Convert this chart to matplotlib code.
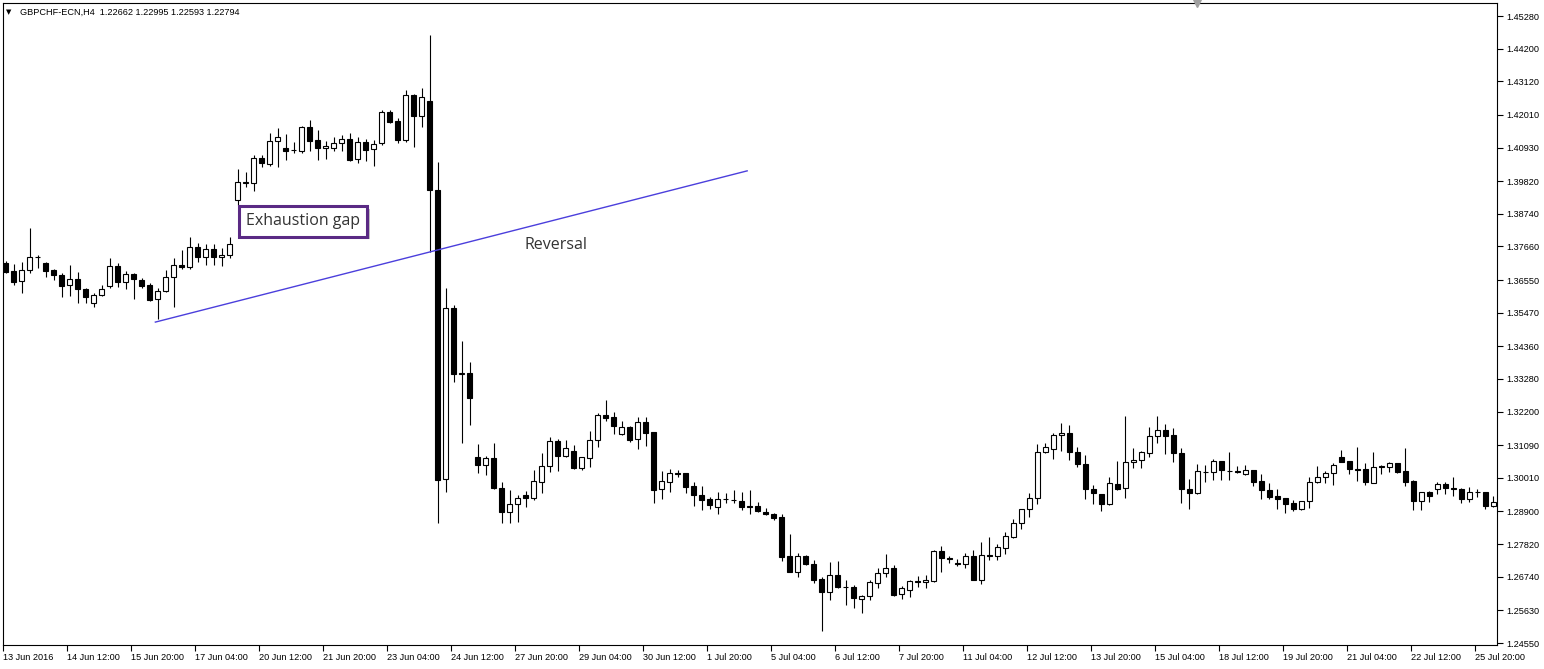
import matplotlib
matplotlib.use('Agg')
import matplotlib.pyplot as plt
import matplotlib.patheffects as pe
from matplotlib.transforms import ScaledTranslation

# GBPCHF H4 candles, 13 Jun 2016 -> 25 Jul 2016
opens = [1.3712, 1.3685, 1.3651, 1.3688, 1.3730, 1.3711, 1.3687, 1.3673, 1.3638, 1.3658,
         1.3627, 1.3578, 1.3605, 1.3634, 1.3700, 1.3648, 1.3675, 1.3655, 1.3639, 1.3591,
         1.3618, 1.3664, 1.3705, 1.3699, 1.3765, 1.3732, 1.3757, 1.3731, 1.3738, 1.3919,
         1.3976, 1.3975, 1.4058, 1.4040, 1.4114, 1.4091, 1.4085, 1.4083, 1.4161, 1.4117,
         1.4091, 1.4091, 1.4107, 1.4121, 1.4056, 1.4111, 1.4087, 1.4107, 1.4210, 1.4180,
         1.4118, 1.4266, 1.4199, 1.4247, 1.3953, 1.2996, 1.3562, 1.3344, 1.3349, 1.3069,
         1.3045, 1.3066, 1.2967, 1.2889, 1.2914, 1.2943, 1.2935, 1.2986, 1.3039, 1.3123,
         1.3074, 1.3089, 1.3035, 1.3068, 1.3125, 1.3209, 1.3201, 1.3145, 1.3169, 1.3128,
         1.3185, 1.3152, 1.2963, 1.2986, 1.3016, 1.3016, 1.2973, 1.2943, 1.2931, 1.2906,
         1.2931, 1.2929, 1.2925, 1.2907, 1.2908, 1.2888, 1.2881, 1.2871, 1.2743, 1.2691,
         1.2743, 1.2716, 1.2667, 1.2625, 1.2680, 1.2641, 1.2640, 1.2602, 1.2609, 1.2655,
         1.2685, 1.2702, 1.2616, 1.2629, 1.2659, 1.2656, 1.2660, 1.2759, 1.2735, 1.2718,
         1.2716, 1.2743, 1.2664, 1.2745, 1.2742, 1.2768, 1.2807, 1.2851, 1.2897, 1.2933,
         1.3086, 1.3095, 1.3142, 1.3148, 1.3086, 1.3047, 1.2963, 1.2947, 1.2914, 1.2980,
         1.2967, 1.3052, 1.3059, 1.3082, 1.3138, 1.3158, 1.3142, 1.3082, 1.2963, 1.2950,
         1.3022, 1.3020, 1.3056, 1.3025, 1.3023, 1.3014, 1.3026, 1.2990, 1.2960, 1.2940,
         1.2933, 1.2917, 1.2897, 1.2924, 1.2986, 1.3003, 1.3016, 1.3069, 1.3057, 1.3029,
         1.3029, 1.2985, 1.3041, 1.3036, 1.3049, 1.3023, 1.2991, 1.2926, 1.2954, 1.2963,
         1.2981, 1.2966, 1.2964, 1.2930, 1.2955, 1.2953, 1.2908]
highs = [1.3718, 1.3709, 1.3715, 1.3827, 1.3739, 1.3715, 1.3691, 1.3677, 1.3704, 1.3682,
         1.3628, 1.3613, 1.3640, 1.3728, 1.3710, 1.3686, 1.3677, 1.3662, 1.3646, 1.3629,
         1.3688, 1.3728, 1.3754, 1.3798, 1.3777, 1.3774, 1.3774, 1.3760, 1.3796, 1.4021,
         1.4011, 1.4068, 1.4068, 1.4140, 1.4157, 1.4138, 1.4110, 1.4165, 1.4184, 1.4151,
         1.4116, 1.4127, 1.4136, 1.4140, 1.4129, 1.4122, 1.4118, 1.4217, 1.4217, 1.4190,
         1.4283, 1.4270, 1.4290, 1.4465, 1.4045, 1.3630, 1.3573, 1.3454, 1.3384, 1.3113,
         1.3073, 1.3116, 1.2986, 1.2961, 1.2944, 1.2958, 1.3027, 1.3083, 1.3136, 1.3129,
         1.3125, 1.3110, 1.3071, 1.3156, 1.3215, 1.3258, 1.3219, 1.3189, 1.3173, 1.3201,
         1.3201, 1.3153, 1.3024, 1.3029, 1.3027, 1.3017, 1.2986, 1.2974, 1.2937, 1.2954,
         1.2950, 1.2961, 1.2955, 1.2961, 1.2920, 1.2900, 1.2884, 1.2881, 1.2814, 1.2752,
         1.2746, 1.2729, 1.2674, 1.2722, 1.2725, 1.2663, 1.2647, 1.2614, 1.2663, 1.2702,
         1.2749, 1.2713, 1.2644, 1.2663, 1.2677, 1.2680, 1.2763, 1.2777, 1.2743, 1.2732,
         1.2754, 1.2763, 1.2788, 1.2806, 1.2782, 1.2822, 1.2865, 1.2899, 1.2950, 1.3113,
         1.3115, 1.3150, 1.3183, 1.3176, 1.3103, 1.3077, 1.2977, 1.2948, 1.3003, 1.3057,
         1.3206, 1.3100, 1.3089, 1.3168, 1.3206, 1.3179, 1.3166, 1.3099, 1.2997, 1.3046,
         1.3043, 1.3063, 1.3056, 1.3086, 1.3039, 1.3043, 1.3026, 1.3014, 1.2983, 1.2964,
         1.2934, 1.2928, 1.2925, 1.3005, 1.3040, 1.3024, 1.3049, 1.3093, 1.3057, 1.3102,
         1.3050, 1.3087, 1.3042, 1.3054, 1.3050, 1.3100, 1.2994, 1.2955, 1.2958, 1.2988,
         1.2986, 1.3004, 1.2966, 1.2972, 1.2963, 1.2954, 1.2941]
lows = [1.3678, 1.3639, 1.3613, 1.3677, 1.3694, 1.3666, 1.3655, 1.3598, 1.3603, 1.3578,
        1.3580, 1.3567, 1.3602, 1.3630, 1.3633, 1.3626, 1.3593, 1.3630, 1.3586, 1.3525,
        1.3616, 1.3565, 1.3693, 1.3690, 1.3716, 1.3706, 1.3705, 1.3702, 1.3727, 1.3903,
        1.3962, 1.3950, 1.4028, 1.4032, 1.4030, 1.4052, 1.4074, 1.4076, 1.4083, 1.4052,
        1.4054, 1.4083, 1.4083, 1.4050, 1.4043, 1.4049, 1.4032, 1.4100, 1.4175, 1.4109,
        1.4111, 1.4095, 1.4161, 1.3749, 1.2851, 1.2955, 1.3319, 1.3117, 1.3176, 1.3018,
        1.3009, 1.2965, 1.2851, 1.2853, 1.2856, 1.2906, 1.2928, 1.2952, 1.3020, 1.3025,
        1.3071, 1.3031, 1.3028, 1.3036, 1.3104, 1.3190, 1.3147, 1.3143, 1.3121, 1.3097,
        1.3106, 1.2919, 1.2932, 1.2953, 1.3004, 1.2951, 1.2909, 1.2895, 1.2898, 1.2882,
        1.2919, 1.2917, 1.2895, 1.2882, 1.2887, 1.2878, 1.2862, 1.2727, 1.2690, 1.2674,
        1.2713, 1.2652, 1.2496, 1.2597, 1.2636, 1.2581, 1.2570, 1.2555, 1.2597, 1.2636,
        1.2672, 1.2610, 1.2600, 1.2608, 1.2641, 1.2638, 1.2657, 1.2691, 1.2719, 1.2711,
        1.2702, 1.2663, 1.2649, 1.2728, 1.2730, 1.2748, 1.2803, 1.2833, 1.2873, 1.2916,
        1.3082, 1.3064, 1.3090, 1.3061, 1.3038, 1.2932, 1.2916, 1.2892, 1.2910, 1.2961,
        1.2935, 1.3035, 1.3035, 1.3071, 1.3117, 1.3081, 1.3052, 1.2917, 1.2897, 1.2949,
        1.2988, 1.2994, 1.2994, 1.2995, 1.3016, 1.3012, 1.2975, 1.2932, 1.2932, 1.2897,
        1.2884, 1.2892, 1.2896, 1.2902, 1.2985, 1.2985, 1.2976, 1.3052, 1.3013, 1.2992,
        1.2976, 1.2983, 1.3013, 1.3019, 1.3018, 1.2973, 1.2895, 1.2895, 1.2922, 1.2948,
        1.2948, 1.2940, 1.2919, 1.2922, 1.2937, 1.2898, 1.2904]
closes = [1.3683, 1.3650, 1.3688, 1.3730, 1.3731, 1.3686, 1.3671, 1.3636, 1.3658, 1.3626,
          1.3598, 1.3605, 1.3624, 1.3700, 1.3648, 1.3675, 1.3658, 1.3636, 1.3589, 1.3618,
          1.3664, 1.3704, 1.3699, 1.3765, 1.3732, 1.3757, 1.3730, 1.3738, 1.3773, 1.3978,
          1.3978, 1.4058, 1.4041, 1.4114, 1.4127, 1.4083, 1.4084, 1.4161, 1.4116, 1.4091,
          1.4098, 1.4108, 1.4120, 1.4052, 1.4111, 1.4085, 1.4104, 1.4210, 1.4179, 1.4118,
          1.4266, 1.4199, 1.4259, 1.3953, 1.2994, 1.3562, 1.3344, 1.3349, 1.3266, 1.3045,
          1.3066, 1.2968, 1.2889, 1.2914, 1.2933, 1.2935, 1.2991, 1.3039, 1.3123, 1.3074,
          1.3099, 1.3035, 1.3070, 1.3125, 1.3209, 1.3200, 1.3173, 1.3169, 1.3127, 1.3185,
          1.3150, 1.2962, 1.2990, 1.3016, 1.3015, 1.2972, 1.2943, 1.2928, 1.2911, 1.2930,
          1.2932, 1.2928, 1.2906, 1.2906, 1.2891, 1.2880, 1.2869, 1.2740, 1.2691, 1.2743,
          1.2716, 1.2664, 1.2625, 1.2680, 1.2641, 1.2640, 1.2605, 1.2610, 1.2656, 1.2686,
          1.2702, 1.2614, 1.2636, 1.2660, 1.2658, 1.2662, 1.2759, 1.2737, 1.2733, 1.2717,
          1.2743, 1.2664, 1.2745, 1.2744, 1.2773, 1.2809, 1.2851, 1.2898, 1.2933, 1.3086,
          1.3102, 1.3143, 1.3148, 1.3086, 1.3046, 1.2963, 1.2952, 1.2914, 1.2983, 1.2965,
          1.3052, 1.3059, 1.3086, 1.3138, 1.3158, 1.3140, 1.3082, 1.2963, 1.2950, 1.3023,
          1.3021, 1.3056, 1.3026, 1.3024, 1.3022, 1.3026, 1.2988, 1.2960, 1.2939, 1.2932,
          1.2916, 1.2897, 1.2924, 1.2986, 1.3003, 1.3016, 1.3045, 1.3054, 1.3029, 1.3028,
          1.2986, 1.3036, 1.3036, 1.3049, 1.3021, 1.2988, 1.2926, 1.2954, 1.2940, 1.2981,
          1.2967, 1.2965, 1.2930, 1.2954, 1.2954, 1.2908, 1.2921]

time_labels = ['13 Jun 2016', '14 Jun 12:00', '15 Jun 20:00', '17 Jun 04:00', '20 Jun 12:00',
               '21 Jun 20:00', '23 Jun 04:00', '24 Jun 12:00', '27 Jun 20:00', '29 Jun 04:00',
               '30 Jun 12:00', '1 Jul 20:00', '5 Jul 04:00', '6 Jul 12:00', '7 Jul 20:00',
               '11 Jul 04:00', '12 Jul 12:00', '13 Jul 20:00', '15 Jul 04:00', '18 Jul 12:00',
               '19 Jul 20:00', '21 Jul 04:00', '22 Jul 12:00', '25 Jul 20:00']
price_ticks = [1.45280, 1.44200, 1.43120, 1.42010, 1.40930, 1.39820, 1.38740, 1.37660,
               1.36550, 1.35470, 1.34360, 1.33280, 1.32200, 1.31090, 1.30010, 1.28900,
               1.27820, 1.26740, 1.25630, 1.24550]

# trend line drawn on the chart (bar index, price)
trend_x = [18.7, 92.7]
trend_y = [1.3516, 1.4016]

axis_font = 'Liberation Sans'
note_font = 'Open Sans'

fig = plt.figure(figsize=(15.44, 6.69), dpi=100)
ax = fig.add_axes([3 / 1544, 24 / 669, 1494 / 1544, 642 / 669])

n = len(opens)
x = list(range(n))
bottoms = [min(o, c) for o, c in zip(opens, closes)]
heights = [max(abs(c - o), 0.00003) for o, c in zip(opens, closes)]
fills = ['white' if c >= o else 'black' for o, c in zip(opens, closes)]

ax.vlines(x, lows, highs, color='black', linewidth=0.8, zorder=2)
ax.bar(x, heights, bottom=bottoms, width=0.6, color=fills, edgecolor='black',
       linewidth=0.8, zorder=3)

ax.plot(trend_x, trend_y, color='#4b3fdc', linewidth=1.0, zorder=4)

ax.text(68.8, 1.3771, 'Reversal', ha='center', va='center', fontsize=11.5,
        family=note_font, color='#333333', zorder=5)
t = ax.text(37.2, 1.3849, 'Exhaustion gap', ha='center', va='center', fontsize=11.5,
            family=note_font, color='#333333', zorder=6,
            bbox=dict(boxstyle='square,pad=0.45', fc='white', ec='#5a2a84', lw=2.2))
t.get_bbox_patch().set_path_effects([
    pe.SimplePatchShadow(offset=(2, -2), shadow_rgbFace='#888888', alpha=0.5), pe.Normal()])

ax.set_xlim(-0.29, 186.46)
ax.set_ylim(1.24484, 1.45710)

# x axis: one label every 8 bars, text to the right of the tick
ax.set_xticks([8 * k - 0.35 for k in range(len(time_labels))])
ax.set_xticklabels(time_labels, ha='left', fontsize=6.6, family=axis_font)
offset = ScaledTranslation(2 / 100, 0, fig.dpi_scale_trans)
for lbl in ax.get_xticklabels():
    lbl.set_transform(lbl.get_transform() + offset)
ax.tick_params(axis='x', direction='out', length=4, width=0.8, pad=2, colors='black')

ax.yaxis.tick_right()
ax.set_yticks(price_ticks)
ax.set_yticklabels(['%.5f' % p for p in price_ticks], fontsize=6.6, family=axis_font)
ax.tick_params(axis='y', direction='out', length=4, width=0.8, pad=3, colors='black')

for s in ax.spines.values():
    s.set_linewidth(0.8)
    s.set_color('black')

# chart shift marker at the top
ax.plot([149], [1.0], marker='v', ms=6, color='#a0a0a0',
        transform=ax.get_xaxis_transform(), clip_on=False, zorder=7)

fig.text(6 / 1544, 1 - 12 / 669, '\u25bc', fontsize=5, va='center', color='black')
fig.text(20 / 1544, 1 - 12 / 669, 'GBPCHF-ECN,H4  1.22662 1.22995 1.22593 1.22794',
         fontsize=6.6, family=axis_font, va='center', color='black')

fig.savefig('out.png', dpi=100, facecolor='white')
